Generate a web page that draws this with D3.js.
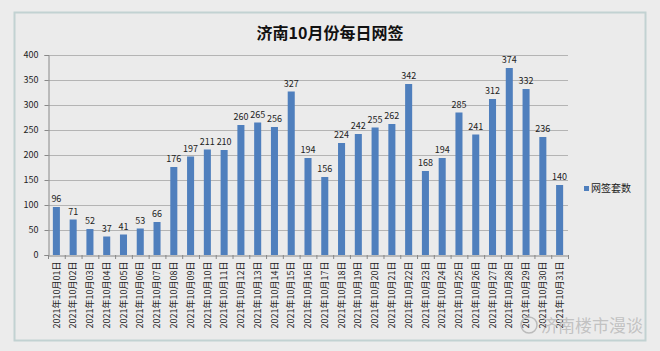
<!DOCTYPE html>
<html>
<head>
<meta charset="utf-8">
<script src="https://cdn.jsdelivr.net/npm/d3@7"></script>
<style>
  body { margin: 0; background: #ececec; }
  svg { display: block; }
</style>
</head>
<body>
<svg id="chart" width="660" height="351"></svg>
<script>
const days = d3.range(1, 32).map(d => "2021年10月" + String(d).padStart(2, "0") + "日");
const counts = [96, 71, 52, 37, 41, 53, 66, 176, 197, 211, 210, 260, 265, 256, 327, 194, 156, 224, 242, 255, 262, 342, 168, 194, 285, 241, 312, 374, 332, 236, 140];
const yTicks = [0, 50, 100, 150, 200, 250, 300, 350, 400];
const seriesName = "网签套数";
const title = "济南10月份每日网签";

const svg = d3.select("#chart");
const font = "'Noto Sans CJK SC', 'Noto Sans', sans-serif";

// frame
svg.append("rect")
  .attr("x", 14.5).attr("y", 12.5)
  .attr("width", 631).attr("height", 328)
  .attr("fill", "#ebebeb")
  .attr("stroke", "#c2d2d2")
  .attr("stroke-width", 2);

const margin = { top: 55, left: 48, right: 92, bottom: 96 };
const x = d3.scaleBand().domain(days).range([margin.left, 660 - margin.right]).paddingInner(0.58).paddingOuter(0.29);
const y = d3.scaleLinear().domain([0, 400]).range([255, 55]);

// gridlines
svg.append("g")
  .selectAll("line")
  .data(yTicks.slice(1))
  .join("line")
  .attr("x1", margin.left).attr("x2", 660 - margin.right)
  .attr("y1", d => y(d) + 0.5).attr("y2", d => y(d) + 0.5)
  .attr("stroke", "#b4b4b4");

// y axis
const yAxis = svg.append("g")
  .attr("transform", `translate(${margin.left + 0.5},0)`)
  .call(d3.axisLeft(y).tickValues(yTicks).tickSize(4).tickPadding(6));
yAxis.select(".domain").attr("stroke", "#888");
yAxis.selectAll(".tick line").attr("stroke", "#888");
yAxis.selectAll("text").attr("fill", "#222").style("font-family", font).style("font-size", "9px");

// bars
svg.append("g")
  .selectAll("rect")
  .data(counts)
  .join("rect")
  .attr("x", (d, i) => x(days[i]))
  .attr("y", d => y(d))
  .attr("width", x.bandwidth())
  .attr("height", d => y(0) - y(d))
  .attr("fill", "#4f7fbd");

// value labels
svg.append("g")
  .selectAll("text")
  .data(counts)
  .join("text")
  .attr("x", (d, i) => x(days[i]) + x.bandwidth() / 2)
  .attr("y", d => y(d) - 5)
  .attr("text-anchor", "middle")
  .attr("fill", "#222")
  .style("font-family", font)
  .style("font-size", "9px")
  .text(d => d);

// x axis
const step = x.step();
const xAxis = svg.append("g")
  .attr("transform", `translate(0,${y(0) + 0.5})`)
  .call(d3.axisBottom(x).tickSize(0).tickPadding(0));
xAxis.select(".domain").attr("stroke", "#888");
xAxis.selectAll(".tick text")
  .attr("transform", "rotate(-90)")
  .attr("text-anchor", "end")
  .attr("x", -6)
  .attr("y", 0)
  .attr("dy", "0.35em")
  .attr("fill", "#222")
  .style("font-family", font)
  .style("font-size", "9px");
svg.append("g")
  .selectAll("line")
  .data(d3.range(days.length + 1))
  .join("line")
  .attr("x1", i => margin.left + 0.5 + i * step)
  .attr("x2", i => margin.left + 0.5 + i * step)
  .attr("y1", y(0)).attr("y2", y(0) + 4)
  .attr("stroke", "#888");

// title
svg.append("text")
  .attr("x", 330).attr("y", 39)
  .attr("text-anchor", "middle")
  .attr("fill", "#111")
  .style("font-family", font)
  .style("font-weight", "bold")
  .style("font-size", "16px")
  .text(title);

// legend
svg.append("rect").attr("x", 584).attr("y", 186).attr("width", 5).attr("height", 5).attr("fill", "#4f7fbd");
svg.append("text")
  .attr("x", 591).attr("y", 192)
  .attr("fill", "#222")
  .style("font-family", font)
  .style("font-size", "10px")
  .text(seriesName);

// watermark
svg.append("circle").attr("cx", 529).attr("cy", 325).attr("r", 8)
  .attr("fill", "none").attr("stroke", "#bbb").attr("stroke-width", 1.5);
svg.append("text")
  .attr("x", 541).attr("y", 332)
  .attr("fill", "#bdbdbd")
  .attr("fill-opacity", 0.9)
  .style("font-family", font)
  .style("font-size", "17px")
  .text("济南楼市漫谈");
</script>
</body>
</html>
